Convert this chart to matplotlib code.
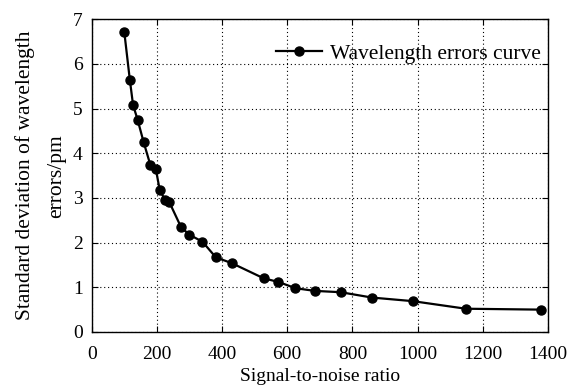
import matplotlib
matplotlib.use("Agg")
import matplotlib.pyplot as plt

plt.rcParams['font.family'] = ['Liberation Serif', 'DejaVu Serif']

# data
snr = [100, 117, 127, 141, 159, 180, 197, 209, 225, 238, 274, 299, 340, 381,
       430, 528, 573, 625, 684, 764, 860, 985, 1148, 1378]
std_err = [6.72, 5.65, 5.08, 4.75, 4.26, 3.74, 3.64, 3.17, 2.96, 2.91, 2.35, 2.18,
           2.02, 1.67, 1.54, 1.20, 1.12, 0.98, 0.92, 0.89, 0.77, 0.69, 0.52, 0.50]

fig = plt.figure(figsize=(5.68, 3.91), dpi=100)
ax = fig.add_axes([0.1614, 0.151, 0.8034, 0.7996])

ax.plot(snr, std_err, color='black', lw=1.6, marker='o', ms=6.5,
        label='Wavelength errors curve')

ax.set_xlim(0, 1400)
ax.set_ylim(0, 7)
ax.set_xticks(range(0, 1401, 200))
ax.set_yticks(range(0, 8))
ax.grid(True, linestyle=(0, (1, 2.5)), color='black', lw=0.8)
ax.tick_params(direction='in', top=True, right=True, labelsize=14, length=4)
ax.tick_params(axis='x', pad=10)
ax.tick_params(axis='y', pad=6.5)
for s in ax.spines.values():
    s.set_linewidth(1.0)

ax.set_xlabel('Signal-to-noise ratio', fontsize=14, labelpad=4)
ax.set_ylabel('Standard deviation of wavelength\nerrors/pm', fontsize=15.5,
              linespacing=1.9, labelpad=4.5)

leg = ax.legend(loc='center right', bbox_to_anchor=(1.0, 0.89), frameon=False,
                fontsize=15.5, handlelength=2.15, handletextpad=0.35,
                borderaxespad=0, borderpad=0.35)

fig.savefig('out.png', dpi=100)
